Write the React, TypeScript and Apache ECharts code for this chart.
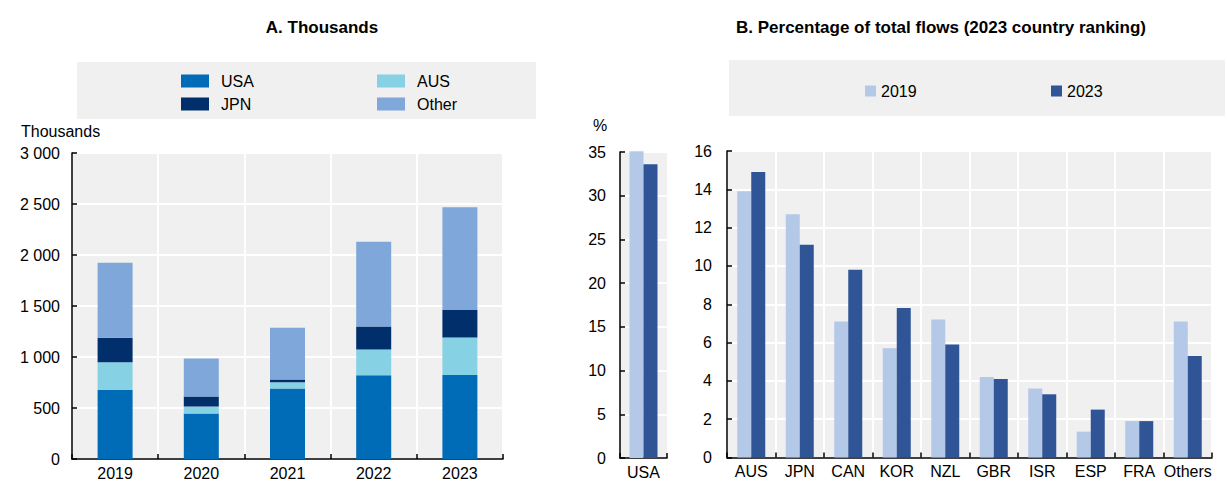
import React, { useEffect, useRef } from "react";
import * as echarts from "echarts";

const years = ["2019", "2020", "2021", "2022", "2023"];
const usa = [677, 445, 690, 821, 824];
const aus = [272, 69, 62, 252, 367];
const jpn = [239, 98, 27, 226, 271];
const other = [736, 373, 507, 831, 1005];

const usaCat = ["USA"];
const usaShare2019 = [35.1];
const usaShare2023 = [33.6];

const countries = ["AUS", "JPN", "CAN", "KOR", "NZL", "GBR", "ISR", "ESP", "FRA", "Others"];
const share2019 = [13.9, 12.7, 7.1, 5.7, 7.2, 4.2, 3.6, 1.35, 1.9, 7.1];
const share2023 = [14.9, 11.1, 9.8, 7.8, 5.9, 4.1, 3.3, 2.5, 1.9, 5.3];

const FONT = "'Liberation Sans', Arial, sans-serif";
const FS = 16;
const C = {
  usa: "#006BB6",
  aus: "#86D1E4",
  jpn: "#002F6C",
  other: "#7FA7D9",
  y2019: "#B4C8E8",
  y2023: "#2F5597",
  bg: "#F0F0F0",
};

const fmt = (v: number) => String(v).replace(/\B(?=(\d{3})+(?!\d))/g, " ");

export default function App() {
  const ref = useRef<HTMLDivElement>(null);
  useEffect(() => {
    if (!ref.current) return;
    const chart = echarts.init(ref.current, null, { renderer: "svg" });
    const axisLine = { show: true, lineStyle: { color: "#000", width: 1.5 } };
    const axisTick = { show: true, inside: true, length: 5, lineStyle: { color: "#000", width: 1.5 } };
    const splitLine = { show: true, lineStyle: { color: "#fff", width: 2 } };
    const label = { color: "#000", fontFamily: FONT, fontSize: FS };
    const mkLegend = (name: string, left: number, top: number, w: number, h: number, pad: number) => ({
      data: [name],
      left,
      top,
      itemWidth: w,
      itemHeight: h,
      icon: "rect",
      padding: 0,
      textStyle: { color: "#000", fontFamily: FONT, fontSize: FS, padding: [0, 0, 0, pad] },
      selectedMode: false,
    });
    chart.setOption({
      animation: false,
      graphic: [
        { type: "rect", shape: { x: 77, y: 62, width: 459, height: 57 }, style: { fill: C.bg }, z: -1 },
        { type: "rect", shape: { x: 729, y: 60, width: 496, height: 56 }, style: { fill: C.bg }, z: -1 },
        {
          type: "text", x: 322, y: 27,
          style: { text: "A. Thousands", align: "center", verticalAlign: "middle", fill: "#000", font: `bold 17px ${FONT}` },
        },
        {
          type: "text", x: 941, y: 27,
          style: { text: "B. Percentage of total flows (2023 country ranking)", align: "center", verticalAlign: "middle", fill: "#000", font: `bold 17px ${FONT}` },
        },
        {
          type: "text", x: 21, y: 131,
          style: { text: "Thousands", align: "left", verticalAlign: "middle", fill: "#000", font: `${FS}px ${FONT}` },
        },
        {
          type: "text", x: 600, y: 125,
          style: { text: "%", align: "center", verticalAlign: "middle", fill: "#000", font: `${FS}px ${FONT}` },
        },
      ],
      legend: [
        mkLegend("USA", 181, 73, 28, 13, 7),
        mkLegend("AUS", 377, 73, 28, 13, 7),
        mkLegend("JPN", 181, 96, 28, 13, 7),
        mkLegend("Other", 377, 96, 28, 13, 7),
        mkLegend("2019", 865, 83, 11, 11, 0),
        mkLegend("2023", 1051, 83, 11, 11, 0),
      ],
      grid: [
        { left: 72, top: 153, width: 431, height: 306, show: true, backgroundColor: C.bg, borderWidth: 0 },
        { left: 620, top: 152, width: 47, height: 306, show: true, backgroundColor: C.bg, borderWidth: 0 },
        { left: 727, top: 151, width: 485, height: 306.5, show: true, backgroundColor: C.bg, borderWidth: 0 },
      ],
      xAxis: [
        { type: "category", gridIndex: 0, data: years, axisLine, axisTick, splitLine, axisLabel: { ...label, margin: 6 } },
        { type: "category", gridIndex: 1, data: usaCat, axisLine, axisTick, splitLine: { show: false }, axisLabel: { ...label, margin: 6 } },
        { type: "category", gridIndex: 2, data: countries, axisLine, axisTick, splitLine, axisLabel: { ...label, margin: 6, interval: 0 } },
      ],
      yAxis: [
        { type: "value", gridIndex: 0, min: 0, max: 3000, interval: 500, axisLine, axisTick, splitLine, axisLabel: { ...label, margin: 12, formatter: fmt } },
        { type: "value", gridIndex: 1, min: 0, max: 35, interval: 5, axisLine, axisTick, splitLine, axisLabel: { ...label, margin: 14 } },
        { type: "value", gridIndex: 2, min: 0, max: 16, interval: 2, axisLine, axisTick, splitLine, axisLabel: { ...label, margin: 15 } },
      ],
      series: [
        { name: "USA", type: "bar", stack: "a", xAxisIndex: 0, yAxisIndex: 0, data: usa, barWidth: 35, itemStyle: { color: C.usa } },
        { name: "AUS", type: "bar", stack: "a", xAxisIndex: 0, yAxisIndex: 0, data: aus, barWidth: 35, itemStyle: { color: C.aus } },
        { name: "JPN", type: "bar", stack: "a", xAxisIndex: 0, yAxisIndex: 0, data: jpn, barWidth: 35, itemStyle: { color: C.jpn } },
        { name: "Other", type: "bar", stack: "a", xAxisIndex: 0, yAxisIndex: 0, data: other, barWidth: 35, itemStyle: { color: C.other } },
        { name: "2019", type: "bar", xAxisIndex: 1, yAxisIndex: 1, data: usaShare2019, barWidth: 14, barGap: "0%", clip: false, itemStyle: { color: C.y2019 } },
        { name: "2023", type: "bar", xAxisIndex: 1, yAxisIndex: 1, data: usaShare2023, barWidth: 14, barGap: "0%", clip: false, itemStyle: { color: C.y2023 } },
        { name: "2019", type: "bar", xAxisIndex: 2, yAxisIndex: 2, data: share2019, barWidth: 14, barGap: "0%", itemStyle: { color: C.y2019 } },
        { name: "2023", type: "bar", xAxisIndex: 2, yAxisIndex: 2, data: share2023, barWidth: 14, barGap: "0%", itemStyle: { color: C.y2023 } },
      ],
    });
    return () => chart.dispose();
  }, []);
  return <div ref={ref} style={{ position: "absolute", left: 0, top: 0, width: 1227, height: 485 }} />;
}
